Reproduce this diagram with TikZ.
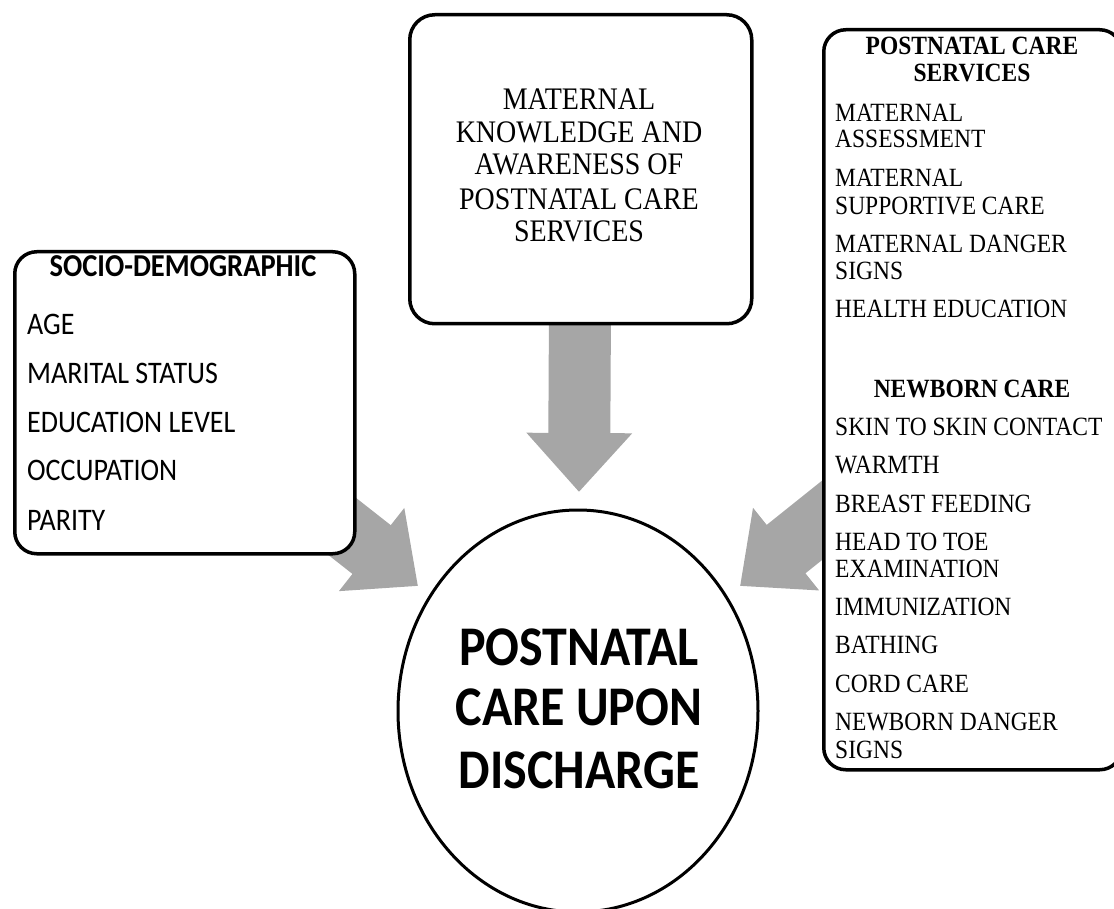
\documentclass[tikz,border=0pt]{standalone}
\usepackage{fontspec}
\setmainfont{Liberation Serif}
\newfontfamily\calfont{Carlito}
\usetikzlibrary{arrows.meta,backgrounds,shapes.geometric}
\definecolor{arrowgray}{RGB}{166,166,166}
\newcommand{\vst}[1]{\scalebox{1}[1.12]{#1}}
\begin{document}
\begin{tikzpicture}[x=1pt,y=-1pt,
  box/.style={draw=black, line width=3.5pt, rounded corners=22pt, fill=white, inner sep=0pt},
  bigarrow/.style={line width=62pt, draw=arrowgray, -{Triangle[length=59pt,width=102pt]}},
  sanstitle/.style={font=\calfont\bfseries\fontsize{28.5}{33}\selectfont, inner sep=0pt, anchor=base},
  sansitem/.style={font=\calfont\fontsize{28}{33}\selectfont, inner sep=0pt, anchor=base west},
  serifmid/.style={font=\fontsize{28}{33}\selectfont, inner sep=0pt, anchor=base},
  seriftitle/.style={font=\bfseries\fontsize{23.5}{27}\selectfont, inner sep=0pt, anchor=base},
  serifitem/.style={font=\fontsize{23.5}{27}\selectfont, inner sep=0pt, anchor=base west},
  circtext/.style={font=\calfont\bfseries\fontsize{50}{60}\selectfont, inner sep=0pt, anchor=base},
]
\useasboundingbox (0,0) rectangle (1114,909);
\clip (0,0) rectangle (1114,909);

% boxes
\node[box, minimum width=340pt, minimum height=302pt, anchor=north west] (sdbox) at (13,250) {};
\node[box, rounded corners=25pt, minimum width=342pt, minimum height=309pt, anchor=north west] (mkbox) at (408,13) {};
\node[box, minimum width=298pt, minimum height=740pt, anchor=north west] (pcbox) at (822,28) {};
\node[draw=black, line width=3pt, ellipse, fill=white, minimum width=360pt, minimum height=402pt, inner sep=0pt] (pnc) at (578,711) {};

\coordinate (lefttip) at (418,586);
\coordinate (downtip) at (579,492);
\coordinate (righttip) at (740,586);

\begin{scope}[on background layer]
  \draw[bigarrow] (sdbox.center) -- (lefttip);
  \draw[bigarrow] (mkbox.center) -- (downtip);
  \draw[bigarrow] (pcbox.center) -- (righttip);
\end{scope}

% left box text
\node[sanstitle] (sdtitle) at (183,277) {\vst{SOCIO-DEMOGRAPHIC}};
\node[sansitem] (age) at (27,335) {\vst{AGE}};
\node[sansitem] (marital) at (27,383) {\vst{MARITAL STATUS}};
\node[sansitem] (edu) at (27,432) {\vst{EDUCATION LEVEL}};
\node[sansitem] (occ) at (27,480) {\vst{OCCUPATION}};
\node[sansitem] (par) at (27,530) {\vst{PARITY}};

% middle box text
\node[serifmid] (mk1) at (579,110) {\vst{MATERNAL}};
\node[serifmid] (mk2) at (579,143) {\vst{KNOWLEDGE AND}};
\node[serifmid] (mk3) at (579,175) {\vst{AWARENESS OF}};
\node[serifmid] (mk4) at (579,210) {\vst{POSTNATAL CARE}};
\node[serifmid] (mk5) at (579,242) {\vst{SERVICES}};

% right box text
\node[seriftitle] (pct1) at (972,55) {\vst{POSTNATAL CARE}};
\node[seriftitle] (pct2) at (972,82) {\vst{SERVICES}};
\node[serifitem] (r1) at (835,122) {\vst{MATERNAL}};
\node[serifitem] (r2) at (835,148) {\vst{ASSESSMENT}};
\node[serifitem] (r3) at (835,187) {\vst{MATERNAL}};
\node[serifitem] (r4) at (835,215) {\vst{SUPPORTIVE CARE}};
\node[serifitem] (r5) at (835,253) {\vst{MATERNAL DANGER}};
\node[serifitem] (r6) at (835,280) {\vst{SIGNS}};
\node[serifitem] (r7) at (835,318) {\vst{HEALTH EDUCATION}};
\node[seriftitle] (nbt) at (972,397) {\vst{NEWBORN CARE}};
\node[serifitem] (n1) at (835,435) {\vst{SKIN TO SKIN CONTACT}};
\node[serifitem] (n2) at (835,473) {\vst{WARMTH}};
\node[serifitem] (n3) at (835,512) {\vst{BREAST FEEDING}};
\node[serifitem] (n4) at (835,550) {\vst{HEAD TO TOE}};
\node[serifitem] (n5) at (835,577) {\vst{EXAMINATION}};
\node[serifitem] (n6) at (835,615) {\vst{IMMUNIZATION}};
\node[serifitem] (n7) at (835,653) {\vst{BATHING}};
\node[serifitem] (n8) at (835,692) {\vst{CORD CARE}};
\node[serifitem] (n9) at (835,730) {\vst{NEWBORN DANGER}};
\node[serifitem] (n10) at (835,758) {\vst{SIGNS}};

% circle text
\node[circtext] (c1) at (579,665) {\vst{POSTNATAL}};
\node[circtext] (c2) at (579,725) {\vst{CARE UPON}};
\node[circtext] (c3) at (579,788) {\vst{DISCHARGE}};
\end{tikzpicture}
\end{document}
